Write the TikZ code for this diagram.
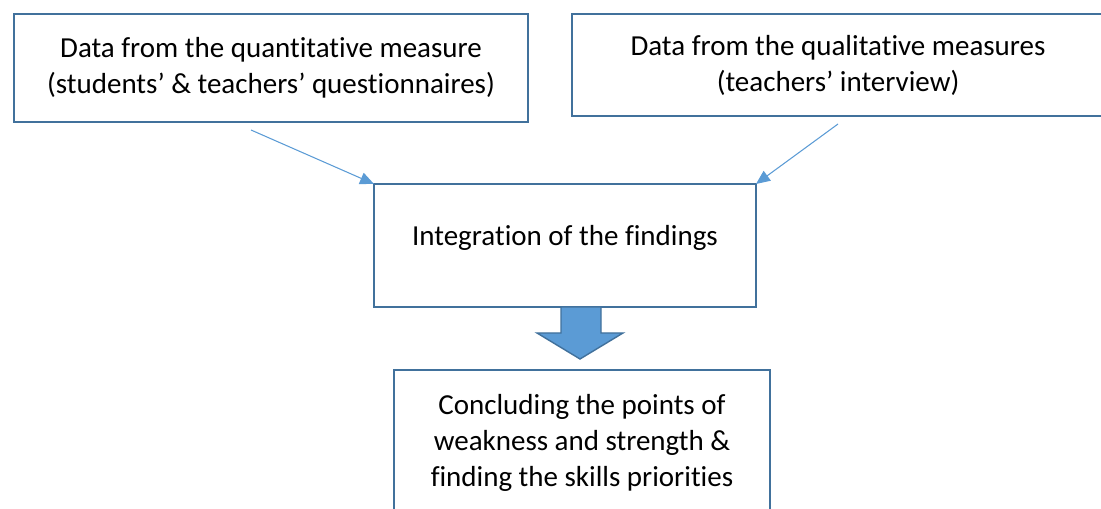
\documentclass[tikz,border=0pt]{standalone}
\usepackage{fontspec}
\setmainfont{Carlito}[Ligatures=NoCommon]
\usepackage{xcolor}
\usetikzlibrary{arrows.meta}

\definecolor{boxline}{HTML}{41719C}
\definecolor{linkblue}{HTML}{5B9BD5}

\begin{document}
\begin{tikzpicture}[
    x=0.02cm, y=-0.02cm,
    >={Triangle[length=0.28cm, width=0.24cm]},
    box/.style={rectangle, draw=boxline, line width=1.1pt, align=center, inner sep=0pt, outer sep=0pt, font=\fontsize{16.5}{20.5}\selectfont},
    link/.style={->, line width=0.6pt, draw=linkblue},
    bigarrow/.style={draw=boxline, fill=linkblue, line width=0.8pt, line join=miter}
]
\useasboundingbox (0,0) rectangle (1101,509);
\clip (0,0) rectangle (1101,509);

% Row 1: the two data sources
\node[box, minimum width=10.28cm, minimum height=2.16cm] (quant) at (271,68) {Data from the quantitative measure\\(students’ \& teachers’ questionnaires)};
\node[box, minimum width=10.64cm, minimum height=2.04cm] (qual) at (838,65) {Data from the qualitative measures\\(teachers’ interview)};

% Row 2: merging
\node[box, minimum width=7.64cm, minimum height=2.46cm, text height=0.3cm, text depth=0.3cm] (integ) at (565,245.5) {Integration of the findings};

% Row 3: outcome
\node[box, minimum width=7.52cm, minimum height=2.9cm] (concl) at (582,442.5) {Concluding the points of\\weakness and strength \&\\finding the skills priorities};

% Thin arrows into the middle box
\coordinate (quantout) at (251,130);
\coordinate (qualout) at (838,124);
\draw[link] (quantout) -- (integ.north west);
\draw[link] (qualout) -- (integ.north east);

% Block arrow down to the outcome
\draw[bigarrow] (561,307) -- (601,307) -- (601,333) -- (623,333) -- (580,359) -- (537,333) -- (561,333) -- cycle;

\end{tikzpicture}
\end{document}
